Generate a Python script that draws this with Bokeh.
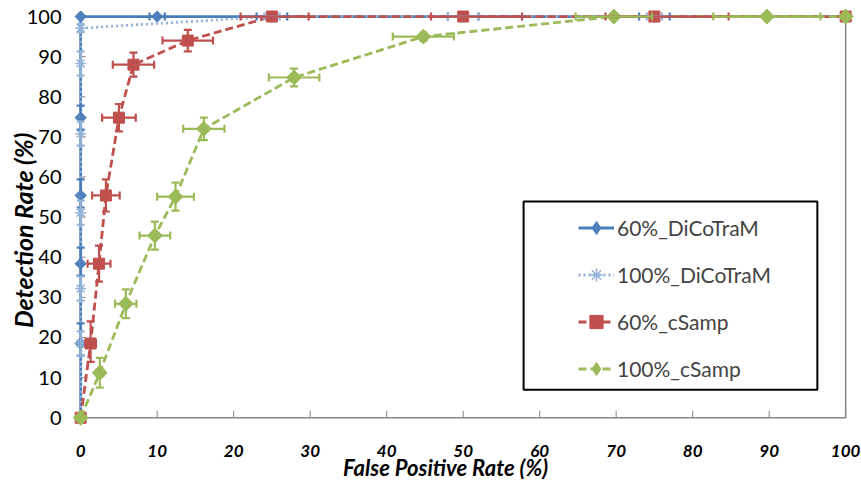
import math
from bokeh.plotting import figure
from bokeh.models import (Range1d, ColumnDataSource, Whisker, TeeHead,
                          Legend, LegendItem, BoxAnnotation)
from bokeh.core.properties import value
from bokeh.embed import file_html
from bokeh.resources import INLINE

# ---------------- data ----------------
TICKS = [0, 10, 20, 30, 40, 50, 60, 70, 80, 90, 100]
TICK_LABELS = [str(t) for t in TICKS]
X_MIN, X_MAX, Y_MIN, Y_MAX = 0, 100, 0, 100
X_TITLE = "False Positive Rate (%)"
Y_TITLE = "Detection Rate (%)"

names = ["60%_DiCoTraM", "100%_DiCoTraM", "60%_cSamp", "100%_cSamp"]

fpr_dic60 = [0, 0, 0, 0, 0, 0, 10, 25, 50, 75, 100]
dr_dic60 = [0, 18.5, 38.4, 55.4, 74.8, 100, 100, 100, 100, 100, 100]
xlo_dic60 = [0, 0, 0, 0, 0, 0, 1, 2, 2, 2, 0]
xhi_dic60 = [0, 0, 0, 0, 0, 0, 1, 2, 2, 2, 0]
ylo_dic60 = [0, 3, 3, 3, 3, 0, 0, 0, 0, 0, 0]
yhi_dic60 = [0, 5, 4, 4, 3, 0, 0, 0, 0, 0, 0]

fpr_dic100 = [0, 0, 0, 0, 0, 0, 0, 25, 50, 75, 100]
dr_dic100 = [0, 18.5, 32.2, 51.1, 70.8, 88.3, 97.1, 100, 100, 100, 100]
xlo_dic100 = [0, 0, 0, 0, 0, 0, 0, 1, 2, 1, 0]
xhi_dic100 = [0, 0, 0, 0, 0, 0, 0, 1, 2, 1, 0]
ylo_dic100 = [0, 3, 3, 3, 3, 3, 1, 0, 0, 0, 0]
yhi_dic100 = [0, 3, 3, 3, 3, 3, 1, 0, 0, 0, 0]

fpr_cs60 = [0, 1.3, 2.4, 3.3, 5.0, 6.9, 14, 25, 50, 75, 100]
dr_cs60 = [0, 18.5, 38.4, 55.4, 74.8, 88, 94, 100, 100, 100, 100]
xlo_cs60 = [0, 0.7, 1.5, 1.8, 2.2, 2.7, 3.3, 4.1, 4.2, 6.4, 0]
xhi_cs60 = [0, 0.7, 1.5, 1.8, 2.2, 2.7, 3.3, 4.8, 7.7, 9.7, 0]
ylo_cs60 = [0, 4.6, 4.5, 4, 3.4, 3, 2.7, 0, 0, 0, 0]
yhi_cs60 = [0, 5.5, 4.5, 4, 3.4, 3, 2.7, 0, 0, 0, 0]

fpr_cs100 = [0, 2.5, 5.9, 9.7, 12.4, 16.1, 27.9, 44.8, 69.7, 89.7, 100]
dr_cs100 = [0, 11.2, 28.4, 45.4, 55.1, 72, 84.8, 95, 100, 100, 100]
xlo_cs100 = [0, 0.5, 1.4, 2, 2.4, 2.7, 3.3, 4, 5, 7, 0]
xhi_cs100 = [0, 0.5, 1.4, 2, 2.4, 2.7, 3.3, 4, 5, 7, 0]
ylo_cs100 = [0, 3.7, 3.6, 3.5, 3.5, 2.8, 2.2, 1, 0, 0, 0]
yhi_cs100 = [0, 3.7, 3.6, 3.5, 3.5, 2.8, 2.2, 1, 0, 0, 0]

# ---------------- layout / style constants ----------------
FONT = "Lato"
GRAY = "#868686"
XTICK_LEN = 1.75     # data units (~7 px)
YTICK_LEN = 0.65     # data units (~5 px)
YLAB_X = -2.5        # right edge of y tick labels (data units)
XLAB_Y = -8.2        # centre of x tick labels (data units)
XTITLE_POS = (47.7, -12.4)
YTITLE_POS = (-7.5, 46.7)

# the frame covers the whole canvas so that edge markers and titles are not clipped
p = figure(width=860, height=484, x_range=Range1d(-10.48, 101.94), y_range=Range1d(-16.65, 104.0),
           output_backend="svg", toolbar_location=None, min_border=0)
p.xaxis.visible = False
p.yaxis.visible = False
p.outline_line_color = None
p.grid.visible = False
p.background_fill_color = "white"

# tick labels and titles
p.text(x=[YLAB_X] * len(TICKS), y=TICKS, text=TICK_LABELS, text_font=value(FONT),
       text_font_size="20px", text_align="right", text_baseline="middle", text_color="black")
p.text(x=TICKS, y=[XLAB_Y] * len(TICKS), text=TICK_LABELS, text_font=value(FONT),
       text_font_size="17px", text_font_style="bold italic", text_align="center",
       text_baseline="middle", text_color="black")
p.text(x=[XTITLE_POS[0]], y=[XTITLE_POS[1]], text=[X_TITLE], text_font=value(FONT),
       text_font_size="22px", text_font_style="bold italic", text_align="center",
       text_baseline="middle", text_color="black")
p.text(x=[YTITLE_POS[0]], y=[YTITLE_POS[1]], text=[Y_TITLE], text_font=value(FONT),
       text_font_size="25px", text_font_style="bold italic", text_align="center",
       text_baseline="middle", text_color="black", angle=math.pi / 2)

# axis lines, right border and inward ticks
p.segment(x0=[X_MIN, X_MIN, X_MAX], y0=[Y_MIN, Y_MIN, Y_MIN],
          x1=[X_MAX, X_MIN, X_MAX], y1=[Y_MIN, Y_MAX, Y_MAX], line_color=GRAY, line_width=1.5)
p.segment(x0=TICKS, y0=[Y_MIN] * len(TICKS), x1=TICKS, y1=[Y_MIN + XTICK_LEN] * len(TICKS),
          line_color=GRAY, line_width=1)
p.segment(x0=[X_MIN] * len(TICKS), y0=TICKS, x1=[X_MIN + YTICK_LEN] * len(TICKS), y1=TICKS,
          line_color=GRAY, line_width=1)


def errbars(x, y, xlo, xhi, ylo, yhi, color):
    vx = [a for a, l, h in zip(x, ylo, yhi) if l > 0 or h > 0]
    vl = [b - l for b, l, h in zip(y, ylo, yhi) if l > 0 or h > 0]
    vu = [b + h for b, l, h in zip(y, ylo, yhi) if l > 0 or h > 0]
    hy = [b for b, l, h in zip(y, xlo, xhi) if l > 0 or h > 0]
    hl = [a - l for a, l, h in zip(x, xlo, xhi) if l > 0 or h > 0]
    hu = [a + h for a, l, h in zip(x, xlo, xhi) if l > 0 or h > 0]
    for base, lo, up, dim in ((vx, vl, vu, "height"), (hy, hl, hu, "width")):
        if not base:
            continue
        src = ColumnDataSource(dict(base=base, lower=lo, upper=up))
        w = Whisker(source=src, base="base", lower="lower", upper="upper", dimension=dim,
                    line_color=color, line_width=2.2, level="glyph",
                    upper_head=TeeHead(size=8, line_color=color, line_width=2.2),
                    lower_head=TeeHead(size=8, line_color=color, line_width=2.2))
        p.add_layout(w)


items = []

# 60%_DiCoTraM
c = "#4A7EBB"
errbars(fpr_dic60, dr_dic60, xlo_dic60, xhi_dic60, ylo_dic60, yhi_dic60, c)
l1 = p.line(fpr_dic60, dr_dic60, line_color=c, line_width=2.8)
k1 = p.scatter(fpr_dic60, dr_dic60, marker="diamond", size=11, fill_color="#4F81BD",
               line_color="#4F81BD")
p.scatter(fpr_dic60, dr_dic60, marker="square", angle=0.785398, size=8,
          fill_color="#4F81BD", line_color="#4F81BD")
items.append(LegendItem(label=names[0], renderers=[l1, k1]))

# 100%_DiCoTraM
c = "#95B3D7"
errbars(fpr_dic100, dr_dic100, xlo_dic100, xhi_dic100, ylo_dic100, yhi_dic100, c)
l2 = p.line(fpr_dic100, dr_dic100, line_color=c, line_width=2.8, line_dash="2 3")
m2 = p.scatter(fpr_dic100, dr_dic100, marker="asterisk", size=11, line_color=c, line_width=1.5)
items.append(LegendItem(label=names[1], renderers=[l2, m2]))

# 60%_cSamp
c = "#C0504D"
errbars(fpr_cs60, dr_cs60, xlo_cs60, xhi_cs60, ylo_cs60, yhi_cs60, c)
l3 = p.line(fpr_cs60, dr_cs60, line_color=c, line_width=2.8, line_dash="8 4")
m3 = p.scatter(fpr_cs60, dr_cs60, marker="square", size=11, fill_color=c, line_color=c)
items.append(LegendItem(label=names[2], renderers=[l3, m3]))

# 100%_cSamp
c = "#9BBB59"
errbars(fpr_cs100, dr_cs100, xlo_cs100, xhi_cs100, ylo_cs100, yhi_cs100, c)
l4 = p.line(fpr_cs100, dr_cs100, line_color=c, line_width=2.8, line_dash="8 4")
k4 = p.scatter(fpr_cs100, dr_cs100, marker="diamond", size=14.5, fill_color=c, line_color=c)
p.scatter(fpr_cs100, dr_cs100, marker="square", angle=0.785398, size=10.5,
          fill_color=c, line_color=c)
items.append(LegendItem(label=names[3], renderers=[l4, k4]))

# legend frame (data-space box)
box = BoxAnnotation(left=57.9, right=96.3, bottom=7.0, top=53.9, fill_alpha=0,
                    line_color="black", line_width=2, line_alpha=1, level="overlay")
p.add_layout(box)

legend = Legend(items=items, location=(578, 99), padding=0, spacing=14,
                glyph_width=36, glyph_height=33, label_height=33, label_standoff=3,
                label_text_font=FONT, label_text_font_size="21px",
                border_line_alpha=0, background_fill_alpha=0)
p.add_layout(legend)

open("out.html", "w").write(file_html(p, INLINE))
